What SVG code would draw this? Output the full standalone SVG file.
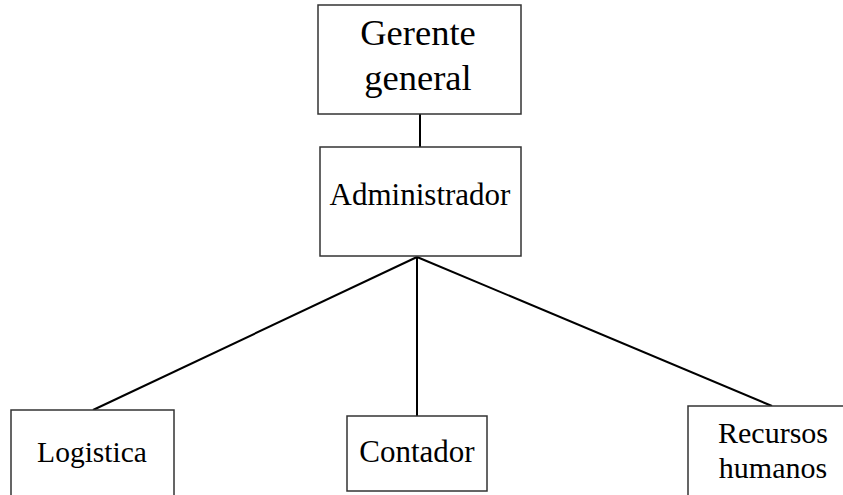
<svg xmlns="http://www.w3.org/2000/svg" width="843" height="495" viewBox="0 0 843 495">
<style>
.box{fill:#fff;stroke:#333;stroke-width:1.5}
.conn{stroke:#000;stroke-width:2;fill:none}
text{font-family:"Liberation Serif","Times New Roman",serif;fill:#000;text-anchor:middle}
</style>
<rect width="843" height="495" fill="#fff"/>
<g id="connectors">
<line class="conn" x1="420" y1="114" x2="420" y2="147"/>
<line class="conn" x1="417" y1="257" x2="93" y2="410"/>
<line class="conn" x1="417" y1="257" x2="417" y2="416"/>
<line class="conn" x1="417" y1="257" x2="772" y2="406"/>
</g>
<g id="gerente">
<rect class="box" x="318" y="5" width="203" height="109"/>
<text x="418" y="45" font-size="36.5">Gerente</text>
<text x="418" y="90" font-size="36.5">general</text>
</g>
<g id="administrador">
<rect class="box" x="320" y="147" width="201" height="109"/>
<text x="420" y="205" font-size="31">Administrador</text>
</g>
<g id="logistica">
<rect class="box" x="11" y="410" width="163" height="100"/>
<text x="92" y="462" font-size="29.5">Logistica</text>
</g>
<g id="contador">
<rect class="box" x="347" y="416" width="140" height="75"/>
<text x="417" y="462" font-size="31">Contador</text>
</g>
<g id="recursos">
<rect class="box" x="688" y="406" width="170" height="100"/>
<text x="773" y="443" font-size="30">Recursos</text>
<text x="773" y="478" font-size="30">humanos</text>
</g>
</svg>
